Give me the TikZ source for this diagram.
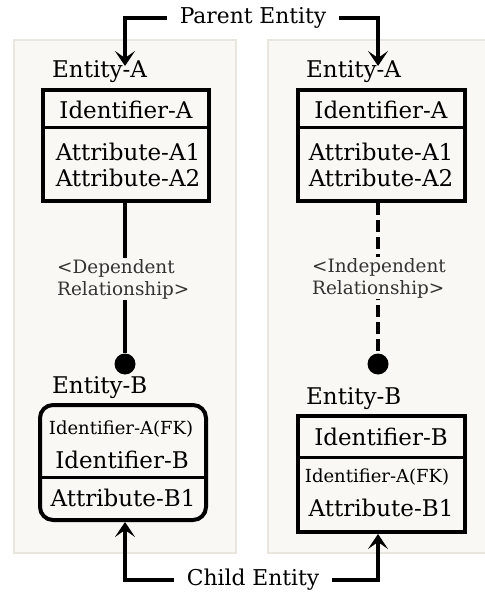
\documentclass[tikz,border=0pt]{standalone}
\usepackage{fontspec}
\setmainfont{DejaVu Serif}
\usetikzlibrary{arrows.meta}
\definecolor{panelfill}{HTML}{F9F8F4}
\definecolor{panelline}{HTML}{E8E6DE}
\definecolor{relgray}{HTML}{333333}
\begin{document}
\begin{tikzpicture}[x=1pt, y=-1pt,
  panel/.style={fill=panelfill, draw=panelline, line width=1.5pt},
  entbox/.style={draw, line width=4pt, minimum width=166pt, inner sep=0pt},
  divline/.style={line width=3pt},
  bigtxt/.style={inner sep=0pt, font=\fontsize{23}{26}\selectfont},
  smalltxt/.style={inner sep=0pt, font=\fontsize{18}{20}\selectfont},
  reltxt/.style={inner sep=1pt, fill=panelfill, text=relgray, align=left,
                 font=\fontsize{18.4}{22}\selectfont},
  dot/.style={circle, fill, minimum size=21pt, inner sep=0pt},
  rel/.style={line width=4pt},
  flecha/.style={line width=4pt, -{Stealth[length=15pt, width=20pt, inset=7pt]}},
  callout/.style={inner xsep=13pt, inner ysep=2pt, font=\fontsize{21.8}{24}\selectfont}
]
  \useasboundingbox (0,0) rectangle (484,593);
  \fill[white] (0,0) rectangle (484,593);
  % background panels
  \draw[panel] (14,40) rectangle (236,553);
  \draw[panel] (268,40) rectangle (495,553);

  % parent entities
  \node[bigtxt, anchor=west] (nameAL) at (52,72) {Entity-A};
  \node[bigtxt, anchor=west] (nameAR) at (306,72) {Entity-A};
  \node[entbox, minimum height=111pt] (boxAL) at (126,145.5) {};
  \node[entbox, minimum height=111pt, minimum width=167pt] (boxAR) at (381.5,145.5) {};
  \draw[divline] ([yshift=-40pt]boxAL.north west) -- ([yshift=-40pt]boxAL.north east);
  \draw[divline] ([yshift=-40pt]boxAR.north west) -- ([yshift=-40pt]boxAR.north east);
  \node[bigtxt] (idAL) at (126,110) {Identifier-A};
  \node[bigtxt] (idAR) at (381,110) {Identifier-A};
  \node[bigtxt, align=center] (attAL) at (128,165) {Attribute-A1\\Attribute-A2};
  \node[bigtxt, align=center] (attAR) at (381,165) {Attribute-A1\\Attribute-A2};

  % child entities
  \node[bigtxt, anchor=west] (nameBL) at (52,388) {Entity-B};
  \node[bigtxt, anchor=west] (nameBR) at (306,399) {Entity-B};
  \node[entbox, rounded corners=13pt, minimum height=115pt] (boxBL) at (123,462.5) {};
  \node[entbox, minimum height=116pt, minimum width=167pt] (boxBR) at (381.5,474) {};
  \draw[divline] ([yshift=-74pt]boxBL.north west) -- ([yshift=-74pt]boxBL.north east);
  \draw[divline] ([yshift=-43pt]boxBR.north west) -- ([yshift=-43pt]boxBR.north east);
  \node[smalltxt] (fkBL) at (121,429) {Identifier-A(FK)};
  \node[bigtxt] (idBL) at (122,460) {Identifier-B};
  \node[bigtxt] (attBL) at (123,498) {Attribute-B1};
  \node[bigtxt] (idBR) at (381,437) {Identifier-B};
  \node[smalltxt] (fkBR) at (377,477) {Identifier-A(FK)};
  \node[bigtxt] (attBR) at (381,508) {Attribute-B1};

  % relationships
  \node[dot] (dotL) at (125,364) {};
  \node[dot] (dotR) at (378,364) {};
  \draw[rel] (boxAL.south -| dotL) -- (dotL);
  \draw[rel, dash pattern=on 12pt off 5pt] (boxAR.south -| dotR) -- (dotR);
  \node[reltxt, anchor=west] (relL) at (56,279) {<Dependent\\Relationship>};
  \node[reltxt, anchor=west] (relR) at (311,278) {<Independent\\Relationship>};

  % callouts
  \node[callout] (parent) at (253,18) {Parent Entity};
  \node[callout] (child) at (253,580) {Child Entity};
  \coordinate (tipAL) at (125,66);
  \coordinate (tipAR) at (378,66);
  \coordinate (tipBL) at (125,522);
  \coordinate (tipBR) at (378,534);
  \draw[flecha] (parent.west) -| (tipAL);
  \draw[flecha] (parent.east) -| (tipAR);
  \draw[flecha] (child.west) -| (tipBL);
  \draw[flecha] (child.east) -| (tipBR);
\end{tikzpicture}
\end{document}
